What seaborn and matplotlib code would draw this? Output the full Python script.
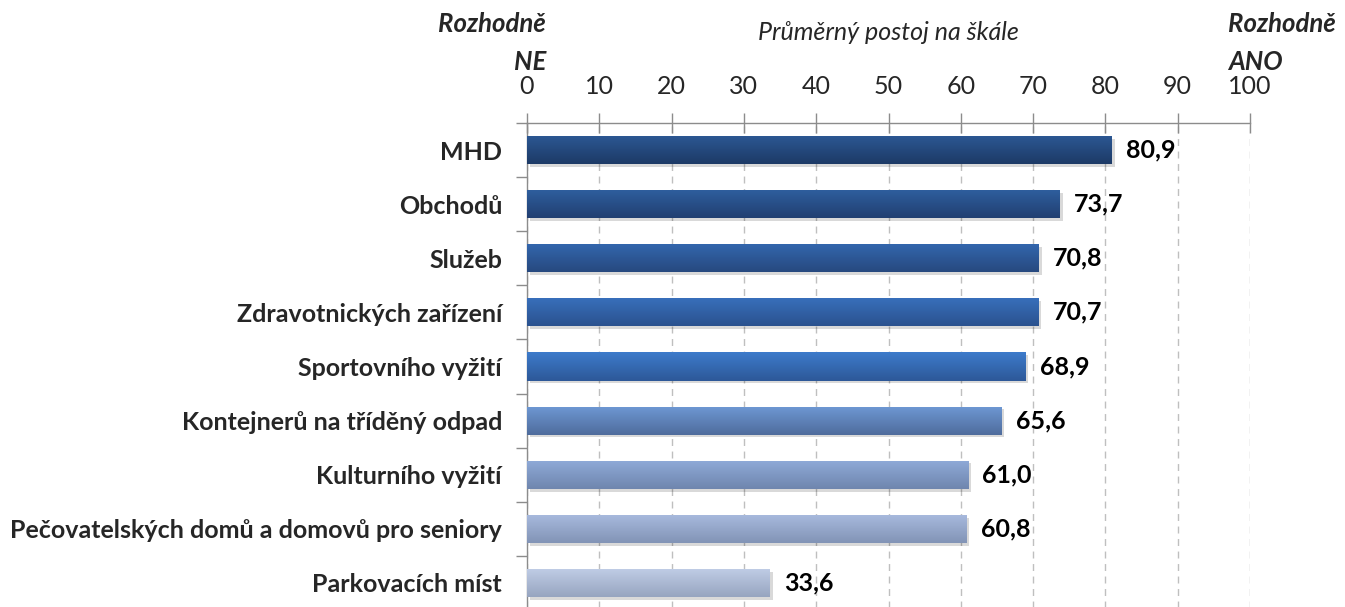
import numpy as np
import pandas as pd
import matplotlib
matplotlib.use("Agg")
import matplotlib.pyplot as plt
import seaborn as sns
from matplotlib.colors import LinearSegmentedColormap
import matplotlib.patheffects as pe

categories = ["MHD", "Obchodů", "Služeb", "Zdravotnických zařízení", "Sportovního vyžití",
              "Kontejnerů na tříděný odpad", "Kulturního vyžití",
              "Pečovatelských domů a domovů pro seniory", "Parkovacích míst"]
values = [80.9, 73.7, 70.8, 70.7, 68.9, 65.6, 61.0, 60.8, 33.6]
value_labels = ["80,9", "73,7", "70,8", "70,7", "68,9", "65,6", "61,0", "60,8", "33,6"]
tick_values = [0, 10, 20, 30, 40, 50, 60, 70, 80, 90, 100]

top_colors = ["#2c5894", "#2f5f9f", "#3367ae", "#3870bc", "#3d7bcb",
              "#6e98d4", "#8faad8", "#a8bade", "#c0cde6"]
bottom_colors = ["#1d3a66", "#213f71", "#27497f", "#2b528f", "#2d5898",
                 "#4f6c9c", "#6f86ae", "#8294b6", "#97a5c0"]
mid_colors = ["#24497e", "#284f88", "#2d5896", "#3161a5", "#3569b1",
              "#5f82b8", "#7f98c3", "#95a7ca", "#abb9d3"]

sns.set_theme(style="white")
plt.rcParams['font.family'] = ['Lato', 'DejaVu Sans']

W, H = 1345, 607
fig = plt.figure(figsize=(W / 100, H / 100), dpi=100)
x0p, x1p, y0p, y1p = 527, 1250, 123, 610
ax = fig.add_axes([x0p / W, 1 - y1p / H, (x1p - x0p) / W, (y1p - y0p) / H])

df = pd.DataFrame({"category": categories, "value": values})
sns.barplot(data=df, x="value", y="category", hue="category", palette=mid_colors,
            legend=False, orient="h", width=0.52, ax=ax, zorder=3, linewidth=0)

grad = np.linspace(0, 1, 64).reshape(-1, 1)
for i, patch in enumerate(ax.patches):
    px, py = patch.get_x(), patch.get_y()
    pw, ph = patch.get_width(), patch.get_height()
    patch.set_path_effects([pe.SimplePatchShadow(offset=(2, -2), shadow_rgbFace="#000000", alpha=0.15),
                            pe.Normal()])
    cmap = LinearSegmentedColormap.from_list(f"g{i}", [top_colors[i], bottom_colors[i]])
    im = ax.imshow(grad, extent=[px, px + pw, py + ph, py], origin="upper", aspect="auto",
                   cmap=cmap, zorder=3.5, interpolation="bicubic")
    im.set_clip_path(patch)
    ax.text(px + pw + 2.0, py + ph / 2, value_labels[i], ha="left", va="center",
            fontsize=18, fontweight="bold", color="black", zorder=5)

ax.set_xlim(0, 100)
ax.set_ylim(len(categories) - 0.5, -0.5)
ax.set_xlabel("")
ax.set_ylabel("")

ax.xaxis.tick_top()
ax.set_xticks(tick_values)
ax.set_xticklabels([str(t) for t in tick_values])
ax.tick_params(axis="x", direction="inout", length=14, width=1, color="#8c8c8c",
               labelsize=18, pad=11, top=True, bottom=False)
ax.tick_params(axis="y", which="major", length=0, labelsize=18, pad=18)
for lab in ax.get_yticklabels():
    lab.set_fontweight("bold")
ax.set_yticks(np.arange(-0.5, len(categories), 1.0), minor=True)
ax.tick_params(axis="y", which="minor", direction="out", length=8, width=1, color="#8c8c8c", left=True)

ax.grid(axis="x", linestyle=(0, (5, 4)), color="#bfbfbf", linewidth=1, zorder=0)
ax.grid(axis="y", visible=False)
for s in ["right", "bottom"]:
    ax.spines[s].set_visible(False)
for s in ["top", "left"]:
    ax.spines[s].set_color("#8c8c8c")
    ax.spines[s].set_linewidth(1)

def ft(x, y, s, **kw):
    fig.text(x / W, 1 - y / H, s, **kw)

ft(546, 24, "Rozhodně", ha="right", va="center", fontsize=18.5, fontweight="bold", style="italic")
ft(546, 62, "NE", ha="right", va="center", fontsize=18.5, fontweight="bold", style="italic")
ft(1228, 24, "Rozhodně", ha="left", va="center", fontsize=18.5, fontweight="bold", style="italic")
ft(1228, 62, "ANO", ha="left", va="center", fontsize=18.5, fontweight="bold", style="italic")
ft(888, 33, "Průměrný postoj na škále", ha="center", va="center", fontsize=18, style="italic")

fig.savefig("out.png", dpi=100)
